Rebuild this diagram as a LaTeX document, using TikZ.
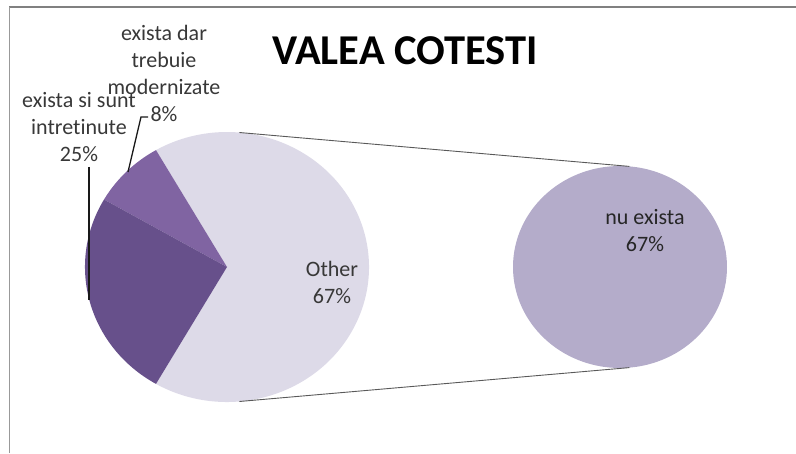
\documentclass[tikz,border=0pt]{standalone}
\usepackage{fontspec}
\setmainfont[Ligatures=NoCommon]{Carlito}
\usepackage{tikz}
\usetikzlibrary{calc}

\definecolor{pielight}{RGB}{221,218,232}
\definecolor{piemid}{RGB}{128,100,162}
\definecolor{piedark}{RGB}{103,80,139}
\definecolor{zoomfill}{RGB}{180,172,202}

\begin{document}
\begin{tikzpicture}[x=1pt,y=1pt,
        lbl/.style={font=\fontsize{22}{27}\selectfont, text=black!78, align=center, inner sep=0pt},
        leader/.style={line width=1.3pt, black!90},
        zoomline/.style={line width=0.9pt, black!65}]
        \useasboundingbox (0,0) rectangle (796,453);
        % chart frame
        \draw [black!50, line width=2pt] (9,446) -- (796,446);
        \draw [black!40, line width=1pt] (9,0) -- (9,446);

        \node [font=\bfseries\fontsize{42.5}{46}\selectfont, inner sep=0pt] (title) at (405,402.5) {VALEA COTESTI};

        % main pie
        \coordinate (pie) at (227,186);
        \fill [pielight] (pie) -- ++(240:142 and 135) arc [start angle=240, end angle=480, x radius=142, y radius=135] -- cycle;
        \fill [piemid] (pie) -- ++(120:142 and 135) arc [start angle=120, end angle=150, x radius=142, y radius=135] -- cycle;
        \fill [piedark] (pie) -- ++(150:142 and 135) arc [start angle=150, end angle=240, x radius=142, y radius=135] -- cycle;

        % second pie
        \coordinate (zoom) at (620,186);
        \fill [zoomfill] (zoom) ellipse [x radius=107, y radius=101];

        \coordinate (pietop) at ($(pie)+(85:142 and 135)$);
        \coordinate (piebot) at ($(pie)+(275:142 and 135)$);
        \coordinate (zoomtop) at ($(zoom)+(85:107 and 101)$);
        \coordinate (zoombot) at ($(zoom)+(275:107 and 101)$);
        \draw [zoomline] (pietop) -- (zoomtop);
        \draw [zoomline] (piebot) -- (zoombot);

        \node [lbl] (other) at (332,170.5) {Other\\67\%};
        \node [lbl, text=black!85] (nuex) at (645,222) {nu exista\\67\%};

        \node [lbl] (lbl8) at (164,380) {exista dar\\trebuie\\modernizate\\8\%};
        \node [lbl] (lbl25) at (79,326) {exista si sunt\\intretinute\\25\%};

        \coordinate (l8a) at (148,336);
        \coordinate (l8b) at (141,336);
        \coordinate (l8c) at (128,281);
        \draw [leader] (l8a) -- (l8b) -- (l8c);
        \coordinate (l25a) at (89,286);
        \coordinate (l25b) at (89,153);
        \draw [leader] (l25a) -- (l25b);
    \end{tikzpicture}
\end{document}
